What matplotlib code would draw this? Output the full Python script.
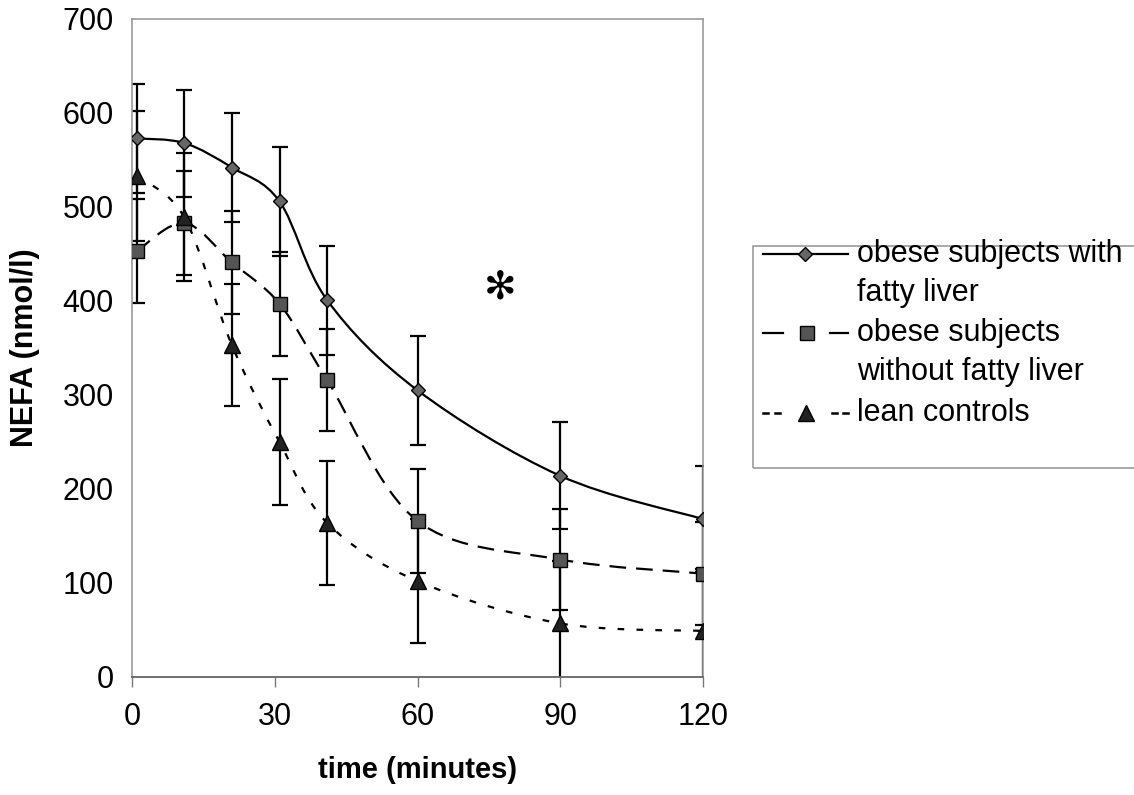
import numpy as np
import matplotlib
matplotlib.use("Agg")
import matplotlib.pyplot as plt
from matplotlib.path import Path
from matplotlib.patches import PathPatch, Rectangle
from matplotlib.lines import Line2D

plt.rcParams['font.family'] = ['Liberation Sans', 'DejaVu Sans']

# data
time = [1, 11, 21, 31, 41, 60, 90, 120]
fatty = [573, 568, 542, 506, 401, 305, 214, 168]
fatty_err = [58, 57, 58, 58, 58, 58, 57, 56]
nofatty = [453, 483, 441, 397, 316, 166, 125, 110]
nofatty_err = [55, 55, 55, 55, 54, 55, 54, 55]
lean = [533, 489, 353, 250, 164, 102, 57, 49]
lean_err = [69, 68, 65, 67, 66, 66, 66, 66]

labels = [["obese subjects with", "fatty liver"],
          ["obese subjects", "without fatty liver"],
          ["lean controls"]]

FS = 22


def smooth_path(xs, ys):
    # excel-like bezier smoothing through the points
    n = len(xs)
    verts = [(xs[0], ys[0])]
    codes = [Path.MOVETO]
    for i in range(n - 1):
        a = i - 1 if i > 0 else i
        d = i + 2 if i + 2 < n else i + 1
        c1 = (xs[i] + (xs[i+1] - xs[a]) / 6., ys[i] + (ys[i+1] - ys[a]) / 6.)
        c2 = (xs[i+1] - (xs[d] - xs[i]) / 6., ys[i+1] - (ys[d] - ys[i]) / 6.)
        verts += [c1, c2, (xs[i+1], ys[i+1])]
        codes += [Path.CURVE4] * 3
    return Path(verts, codes)


fig = plt.figure(figsize=(11.34, 7.95), dpi=100)
ax = fig.add_axes([132/1134, 1 - 677/795, 571/1134, 658/795])

series = [
    (fatty, fatty_err, '-', 'D', 7.5, '#666666'),
    (nofatty, nofatty_err, (0, (7.5, 4.5)), 's', 10, '#555555'),
    (lean, lean_err, (0, (3.0, 5.5)), '^', 11, '#222222'),
]

for vals, err, ls, mk, ms, fc in series:
    ax.errorbar(time, vals, yerr=err, fmt='none', ecolor='black',
                elinewidth=1.6, capsize=5.5, capthick=1.6, zorder=2)
    ax.add_patch(PathPatch(smooth_path(time, vals), fill=False, lw=1.6,
                           ls=ls, edgecolor='black', zorder=3))
    ax.plot(time, vals, ls='none', marker=mk, ms=ms, mfc=fc, mec='black',
            mew=1.0, zorder=4)

ax.text(77.3, 414, '\u273b', fontsize=28, family='DejaVu Sans',
        ha='center', va='center')

ax.set_xlim(0, 120)
ax.set_ylim(0, 700)
ax.set_xticks([0, 30, 60, 90, 120])
ax.set_yticks(range(0, 701, 100))
ax.tick_params(axis='x', length=7, width=1, color='#777777', direction='out',
               labelsize=FS, pad=11)
ax.tick_params(axis='y', length=0, labelsize=FS, pad=13)
for side in ['top', 'right', 'left']:
    ax.spines[side].set_color('#999999')
    ax.spines[side].set_linewidth(1.2)
ax.spines['bottom'].set_color('#666666')
ax.spines['bottom'].set_linewidth(1.3)

ax.set_xlabel('time (minutes)', fontsize=21, fontweight='bold', labelpad=17)
ax.set_ylabel('NEFA (nmol/l)', fontsize=22, fontweight='bold', labelpad=16)

# legend drawn by hand so the handles sit on the first text line
W, H = 1134., 795.


def fx(px):
    return px / W


def fy(py):
    return 1 - py / H


fig.patches.append(Rectangle((fx(753), fy(468)), fx(420), 222 / H, fill=False,
                             edgecolor='#999999', lw=1.2, transform=fig.transFigure))

rows = [254, 333, 413]
line_y = [[254, 293], [333, 372], [413]]
# solid
fig.add_artist(Line2D([fx(763), fx(848)], [fy(rows[0])] * 2, color='black', lw=1.6))
fig.add_artist(Line2D([fx(805)], [fy(rows[0])], marker='D', ms=7.0, mfc='#666666',
                      mec='black', ls='none'))
# dashed
for a, b in [(763, 783), (830, 848)]:
    fig.add_artist(Line2D([fx(a), fx(b)], [fy(rows[1])] * 2, color='black', lw=1.6))
fig.add_artist(Line2D([fx(807)], [fy(rows[1])], marker='s', ms=10, mfc='#555555',
                      mec='black', ls='none'))
# dotted
for a, b in [(763, 768), (775, 780), (832, 837), (843, 848)]:
    fig.add_artist(Line2D([fx(a), fx(b)], [fy(rows[2])] * 2, color='black', lw=1.8))
fig.add_artist(Line2D([fx(806)], [fy(rows[2])], marker='^', ms=11, mfc='#222222',
                      mec='black', ls='none'))

for lab, ys in zip(labels, line_y):
    for txt, y in zip(lab, ys):
        fig.text(fx(857), fy(y), txt, fontsize=FS, ha='left', va='center')

fig.savefig('out.png', dpi=100)
